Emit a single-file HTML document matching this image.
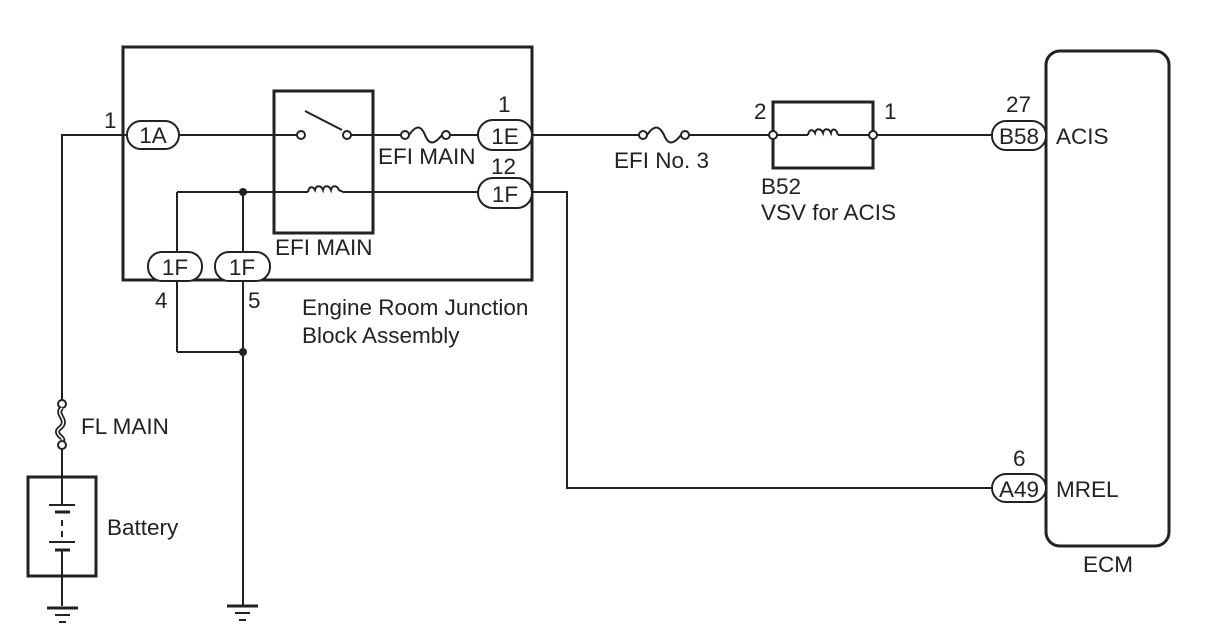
<!DOCTYPE html>
<html><head><meta charset="utf-8"><style>
html,body{margin:0;padding:0;background:#fff;}
svg{display:block;}
text{font-family:"Liberation Sans",Arial,sans-serif;font-size:22.5px;fill:#222;}
</style></head><body>
<svg width="1208" height="644" viewBox="0 0 1208 644" xmlns="http://www.w3.org/2000/svg">
<g fill="none" stroke="#222" stroke-width="2">
<rect x="123" y="47" width="409" height="233" stroke-width="3"/>
<rect x="274" y="91" width="99" height="142" stroke-width="3"/>
<polyline points="62,400 62,135 127,135"/>
<line x1="179" y1="135" x2="297" y2="135"/>
<circle cx="301" cy="135" r="4" fill="#fff"/>
<line x1="305" y1="111" x2="342" y2="130"/>
<circle cx="347" cy="135" r="4" fill="#fff"/>
<line x1="351" y1="135" x2="401" y2="135"/>
<circle cx="405" cy="135" r="4" fill="#fff"/>
<path d="M409,135 C416,125 421,125 425,135 C429,145 434,145 442,135"/>
<circle cx="446" cy="135" r="4" fill="#fff"/>
<line x1="450" y1="135" x2="478" y2="135"/>
<line x1="177" y1="192" x2="308" y2="192"/>
<path d="M308,192 C309,186 313,186 315,190 C316,185 321,185 323,190 C324,185 329,185 331,190 C332,185 337,185 339,190 L343,192"/>
<line x1="343" y1="192" x2="478" y2="192"/>
<line x1="177" y1="192" x2="177" y2="352"/>
<line x1="243" y1="192" x2="243" y2="606"/>
<line x1="177" y1="352" x2="243" y2="352"/>
<line x1="532" y1="135" x2="639" y2="135"/>
<circle cx="643" cy="135" r="4" fill="#fff"/>
<path d="M647,135 C654,125 659,125 664,135 C668,145 673,145 681,135"/>
<circle cx="685" cy="135" r="4" fill="#fff"/>
<line x1="689" y1="135" x2="769" y2="135"/>
<rect x="773" y="102" width="100" height="66" stroke-width="3"/>
<circle cx="773" cy="135" r="4" fill="#fff"/>
<line x1="777" y1="135" x2="808" y2="135"/>
<path d="M808,135 C809,129 813,129 815,133 C816,128 821,128 823,133 C824,128 829,128 831,133 C832,128 836,128 838,135"/>
<line x1="838" y1="135" x2="869" y2="135"/>
<circle cx="873" cy="135" r="4" fill="#fff"/>
<line x1="877" y1="135" x2="992" y2="135"/>
<polyline points="532,192 567,192 567,488 992,488"/>
<rect x="1046" y="51" width="123" height="495" rx="14" stroke-width="3"/>
<circle cx="62" cy="404" r="4" fill="#fff"/>
<path d="M62,408 C54,414 70,420 60,428 C52,434 66,438 62,441" stroke-width="5"/>
<path d="M62,408 C54,414 70,420 60,428 C52,434 66,438 62,441" stroke="#fff" stroke-width="1.5"/>
<circle cx="62" cy="445" r="4" fill="#fff"/>
<line x1="62" y1="449" x2="62" y2="505"/>
<line x1="62" y1="520" x2="62" y2="526"/>
<line x1="62" y1="531" x2="62" y2="537"/>
<line x1="62" y1="550" x2="62" y2="606"/>
<rect x="28" y="477" width="68" height="99" stroke-width="3"/>
<line x1="49" y1="505" x2="75" y2="505"/>
<line x1="55" y1="512" x2="70" y2="512" stroke-width="3"/>
<line x1="49" y1="542" x2="75" y2="542"/>
<line x1="55" y1="550" x2="70" y2="550" stroke-width="3"/>
<line x1="47" y1="608" x2="78" y2="608" stroke-width="3"/>
<line x1="55" y1="615" x2="70" y2="615"/>
<line x1="59" y1="622" x2="66" y2="622"/>
<line x1="227" y1="606" x2="258" y2="606" stroke-width="3"/>
<line x1="235" y1="613" x2="250" y2="613"/>
<line x1="239" y1="620" x2="246" y2="620"/>
</g>
<g fill="#222">
<circle cx="243" cy="192" r="4"/>
<circle cx="243" cy="352" r="4"/>
</g>
<g fill="#fff" stroke="#222" stroke-width="2">
<rect x="127" y="121" width="52" height="28" rx="14"/>
<rect x="478" y="120" width="54" height="30" rx="15"/>
<rect x="478" y="178" width="54" height="30" rx="15"/>
<rect x="148" y="252" width="54" height="29" rx="14"/>
<rect x="215" y="252" width="55" height="29" rx="14"/>
<rect x="992" y="121" width="54" height="29" rx="14"/>
<rect x="992" y="474" width="54" height="28" rx="14"/>
</g>
<g text-anchor="middle">
<text x="153" y="143">1A</text>
<text x="505" y="144">1E</text>
<text x="505" y="202">1F</text>
<text x="175" y="275">1F</text>
<text x="242" y="275">1F</text>
<text x="1019" y="144">B58</text>
<text x="1019" y="497">A49</text>
</g>
<text x="104" y="128">1</text>
<text x="498" y="112">1</text>
<text x="491" y="174">12</text>
<text x="155" y="308">4</text>
<text x="248" y="308">5</text>
<text x="378" y="164">EFI MAIN</text>
<text x="275" y="255">EFI MAIN</text>
<text x="302" y="315">Engine Room Junction</text>
<text x="302" y="343">Block Assembly</text>
<text x="614" y="168">EFI No. 3</text>
<text x="754" y="119">2</text>
<text x="884" y="119">1</text>
<text x="761" y="194">B52</text>
<text x="761" y="220">VSV for ACIS</text>
<text x="1006" y="112">27</text>
<text x="1056" y="144">ACIS</text>
<text x="1013" y="466">6</text>
<text x="1056" y="497">MREL</text>
<text x="1083" y="572">ECM</text>
<text x="81" y="434">FL MAIN</text>
<text x="107" y="535">Battery</text>
</svg>
</body></html>
